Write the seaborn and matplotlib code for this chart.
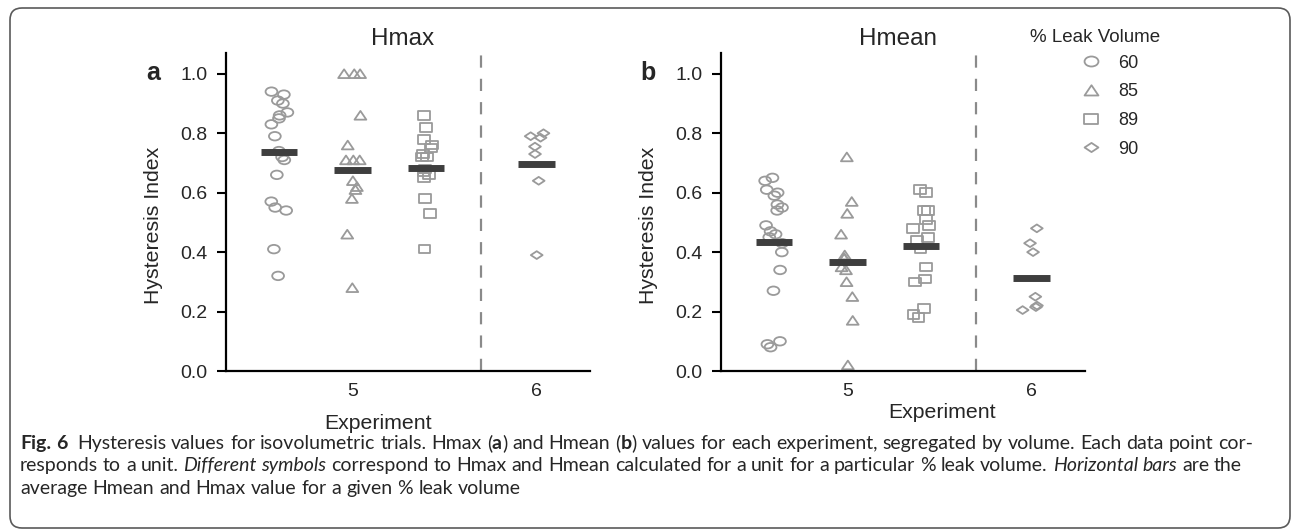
import numpy as np
import pandas as pd
import matplotlib
matplotlib.use("Agg")
import matplotlib.pyplot as plt
import seaborn as sns
from matplotlib.path import Path
from matplotlib.transforms import Affine2D, IdentityTransform
from matplotlib.lines import Line2D
from matplotlib.patches import FancyBboxPatch

# ---------------- data ----------------
volumes = ["60", "85", "89", "90"]
experiment_labels = ["5", "6"]
panel_titles = ["Hmax", "Hmean"]
panel_letters = ["a", "b"]
legend_title = "% Leak Volume"

hmax_60 = [0.94, 0.93, 0.91, 0.90, 0.87, 0.86, 0.85, 0.83, 0.79, 0.74, 0.72, 0.71, 0.66, 0.57, 0.55, 0.54, 0.41, 0.32]
hmax_85 = [1.00, 1.00, 1.00, 0.86, 0.76, 0.71, 0.71, 0.71, 0.64, 0.62, 0.61, 0.58, 0.46, 0.28]
hmax_89 = [0.86, 0.82, 0.78, 0.76, 0.75, 0.73, 0.72, 0.72, 0.68, 0.67, 0.66, 0.65, 0.58, 0.53, 0.41]
hmax_90 = [0.80, 0.79, 0.785, 0.755, 0.73, 0.64, 0.39]

hmean_60 = [0.65, 0.64, 0.61, 0.60, 0.59, 0.56, 0.55, 0.54, 0.49, 0.47, 0.46, 0.45, 0.43, 0.40, 0.34, 0.27, 0.10, 0.09, 0.08]
hmean_85 = [0.72, 0.57, 0.53, 0.46, 0.39, 0.38, 0.38, 0.35, 0.34, 0.30, 0.25, 0.17, 0.02]
hmean_89 = [0.61, 0.60, 0.54, 0.54, 0.51, 0.49, 0.48, 0.45, 0.44, 0.41, 0.35, 0.31, 0.30, 0.21, 0.19, 0.18]
hmean_90 = [0.48, 0.43, 0.40, 0.25, 0.22, 0.215, 0.205]

hmax_means = [0.737, 0.677, 0.683, 0.696]
hmean_means = [0.434, 0.368, 0.420, 0.314]

caption_lines = [
    [("Fig. 6", "bold"), ("  Hysteresis values for isovolumetric trials. Hmax (", "normal"), ("a", "bold"),
     (") and Hmean (", "normal"), ("b", "bold"),
     (") values for each experiment, segregated by volume. Each data point cor-", "normal")],
    [("responds to a unit. ", "normal"), ("Different symbols", "italic"),
     (" correspond to Hmax and Hmean calculated for a unit for a particular % leak volume. ", "normal"),
     ("Horizontal bars", "italic"), (" are the", "normal")],
    [("average Hmean and Hmax value for a given % leak volume", "normal")],
]

# ---------------- layout / style ----------------
W, H = 1293, 532
group_pos = [0.0, 1.0, 2.0, 3.5]
divider_x = 2.75
tick_pos = [1.0, 3.5]
gray = "#9a9a9a"
bar_color = "#3e3e3e"

sns.set_style("ticks")
plt.rcParams["font.family"] = ["Liberation Sans", "DejaVu Sans"]

def _marker(path, sx, sy):
    return path.transformed(Affine2D().scale(sx, sy))

ellipse = _marker(Path.unit_circle(), 0.5, 0.36)
triangle = Path([(-0.5, -0.36), (0.5, -0.36), (0.0, 0.38), (-0.5, -0.36)],
                [Path.MOVETO, Path.LINETO, Path.LINETO, Path.CLOSEPOLY])
square = Path([(-0.45, -0.33), (0.45, -0.33), (0.45, 0.33), (-0.45, 0.33), (-0.45, -0.33)],
              [Path.MOVETO, Path.LINETO, Path.LINETO, Path.LINETO, Path.CLOSEPOLY])
diamond = Path([(-0.5, 0.0), (0.0, 0.33), (0.5, 0.0), (0.0, -0.33), (-0.5, 0.0)],
               [Path.MOVETO, Path.LINETO, Path.LINETO, Path.LINETO, Path.CLOSEPOLY])
markers = {"60": ellipse, "85": triangle, "89": square, "90": diamond}

rows = []
for panel, series in zip(panel_titles, [[hmax_60, hmax_85, hmax_89, hmax_90],
                                        [hmean_60, hmean_85, hmean_89, hmean_90]]):
    for v, p, vals in zip(volumes, group_pos, series):
        for val in vals:
            rows.append({"panel": panel, "volume": v, "pos": p, "value": val})
df = pd.DataFrame(rows)
means = {"Hmax": hmax_means, "Hmean": hmean_means}

fig = plt.figure(figsize=(W / 100, H / 100), dpi=100)
np.random.seed(7)

axes_left_px = [226, 721]
ax_w_px, ax_top_px, ax_bot_px = 364, 53, 371
exp_label_pos = [(0.418, -0.165), (0.607, -0.13)]

for i, panel in enumerate(panel_titles):
    ax = fig.add_axes([axes_left_px[i] / W, (H - ax_bot_px) / H, ax_w_px / W, (ax_bot_px - ax_top_px) / H])
    ax.axvline(divider_x, color="#8a8a8a", lw=1.6, linestyle=(0, (5.5, 5.0)), zorder=0)
    for v in volumes:
        sub = df[(df.panel == panel) & (df.volume == v)]
        sns.stripplot(data=sub, x="pos", y="value", native_scale=True, orient="x", jitter=0.12,
                      marker=markers[v], size=8.5, color=gray, linewidth=1.3, ax=ax, zorder=2)
        coll = ax.collections[-1]
        coll.set_facecolor("none")
        coll.set_edgecolor(gray)
        coll.set_linewidth(1.3)
    gp = np.array(group_pos)
    ax.hlines(means[panel], gp - 0.25, gp + 0.25, color=bar_color, lw=5, zorder=3)

    ax.set_xlim(-0.72, 4.23)
    ax.set_ylim(0, 1.07)
    ax.set_yticks(np.arange(0, 1.01, 0.2))
    ax.set_yticklabels([f"{t:.1f}" for t in np.arange(0, 1.01, 0.2)])
    ax.set_xticks(tick_pos)
    ax.set_xticklabels(experiment_labels)
    ax.tick_params(axis="y", length=6.5, width=1.5, pad=7, labelsize=14, color="black")
    ax.tick_params(axis="x", length=0, pad=9, labelsize=14)
    for s in ["left", "bottom"]:
        ax.spines[s].set_linewidth(1.6)
        ax.spines[s].set_color("black")
    sns.despine(ax=ax)
    ax.set_ylabel("Hysteresis Index", fontsize=15.3)
    ax.yaxis.set_label_coords(-0.173, 0.459)
    ax.set_xlabel("")
    ax.text(exp_label_pos[i][0], exp_label_pos[i][1], "Experiment", transform=ax.transAxes,
            ha="center", va="center", fontsize=15.3)
    ax.text(0.485, 1.044, panel, transform=ax.transAxes, ha="center", va="center", fontsize=17.5)
    ax.text(-0.2, 0.936, panel_letters[i], transform=ax.transAxes, ha="center", va="center",
            fontsize=18, fontweight="bold")

# legend
fig.text(1095 / W, 1 - 37 / H, legend_title, ha="center", va="center", fontsize=13.5)
handles = [Line2D([], [], marker=markers[v], ls="none", mfc="none", mec=gray, mew=1.3, ms=10)
           for v in volumes]
fig.legend(handles, volumes, loc="upper left",
           bbox_to_anchor=(1073 / W, 1 - 45.5 / H), frameon=False, fontsize=13,
           handlelength=1.0, handletextpad=1.0, labelspacing=0.65, borderpad=0)

# frame
fig.add_artist(FancyBboxPatch((10, 4), 1280, 520, boxstyle="round,pad=0,rounding_size=12",
                              transform=IdentityTransform(), fill=False, edgecolor="#5a5a5a", lw=1.2))

# caption
cap_family = ["Lato", "Liberation Sans", "DejaVu Sans"]
renderer = fig.canvas.get_renderer()

def _kw(size, style):
    kw = dict(fontsize=size, family=cap_family)
    if style == "bold":
        kw["fontweight"] = "bold"
    if style == "italic":
        kw["fontstyle"] = "italic"
    return kw

def text_width(s, size, style):
    t = fig.text(0, 0, s, **_kw(size, style))
    w = t.get_window_extent(renderer).width
    t.remove()
    return w

def space_width(size, style):
    return text_width("n n", size, style) - text_width("nn", size, style)

def line_tokens(line):
    toks = []
    for text, style in line:
        parts = text.split(" ")
        for k, p in enumerate(parts):
            if p:
                toks.append(("w", p, style))
            if k < len(parts) - 1:
                toks.append(("s", " ", style))
    return toks

def line_width(line, size):
    w = 0
    for kind, s, style in line_tokens(line):
        w += space_width(size, style) if kind == "s" else text_width(s, size, style)
    return w

x0 = 20
base = 10.0
cap_size = base * (1253 - x0) / line_width(caption_lines[0], base)
targets = [1253 - x0, 1242 - x0, None]
line_base = [449, 471, 494]
for line, tgt, yy in zip(caption_lines, targets, line_base):
    toks = line_tokens(line)
    natural = line_width(line, cap_size)
    nsp = sum(1 for t in toks if t[0] == "s")
    extra = (tgt - natural) / nsp if (tgt is not None and nsp) else 0
    x = x0
    for kind, s, style in toks:
        if kind == "s":
            x += space_width(cap_size, style) + extra
        else:
            fig.text(x / W, 1 - yy / H, s, va="baseline", ha="left", **_kw(cap_size, style))
            x += text_width(s, cap_size, style)

fig.savefig("out.png", dpi=100)
